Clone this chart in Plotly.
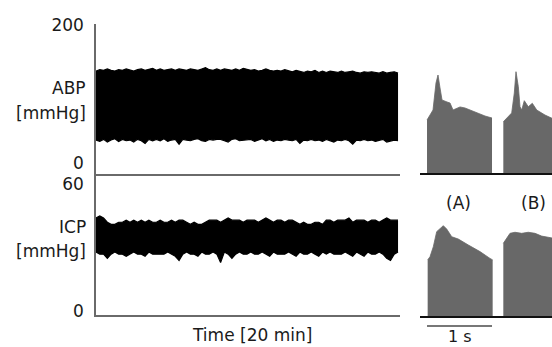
import plotly.graph_objects as go

# ---------------- data ----------------
# 20-minute trends (minutes), envelope of the dense pulsatile signal
trend_time_min = [i * 0.25 for i in range(81)]

abp_upper = [134, 136, 135, 137, 135, 134, 136, 135, 137,
             135, 134, 136, 137, 135, 136, 138, 135,
             137, 135, 136, 137, 135, 137, 136, 135,
             137, 136, 135, 137, 139, 136, 135, 137,
             135, 137, 136, 135, 137, 135, 138, 136,
             135, 136, 134, 135, 137, 135, 134, 135,
             134, 136, 134, 133, 135, 134, 132, 134,
             133, 135, 132, 134, 132, 134, 133, 132,
             134, 132, 133, 134, 132, 131, 133, 132,
             133, 132, 131, 133, 131, 132, 133, 131]
abp_lower = [34, 32, 35, 31, 34, 36, 32, 35, 33,
             34, 31, 35, 33, 29, 35, 33, 35,
             33, 36, 32, 34, 35, 28, 35, 34,
             33, 35, 36, 33, 32, 35, 34, 35,
             35, 33, 31, 35, 36, 33, 34, 35,
             35, 32, 34, 36, 33, 35, 32, 34,
             33, 35, 34, 33, 35, 29, 34, 33,
             35, 33, 34, 32, 35, 33, 31, 34,
             33, 35, 33, 28, 34, 33, 35, 33,
             34, 32, 33, 35, 31, 33, 34, 33]
icp_upper = [44, 45, 44, 42, 41, 41, 42, 42, 43,
             42, 43, 42, 43, 42, 43, 42, 42,
             43, 42, 42, 43, 42, 43, 43, 42,
             41, 42, 41, 41, 42, 43, 43, 43,
             42, 43, 44, 43, 43, 43, 42, 43,
             43, 43, 42, 43, 44, 43, 42, 43,
             43, 42, 43, 43, 42, 41, 42, 41,
             41, 42, 42, 41, 43, 43, 42, 43,
             43, 43, 44, 42, 43, 43, 43, 42,
             43, 43, 42, 43, 44, 43, 43, 43]
icp_lower = [28, 27, 27, 25, 27, 28, 27, 27, 26,
             27, 28, 27, 27, 26, 28, 27, 27,
             27, 27, 28, 27, 26, 24, 27, 28,
             27, 27, 26, 28, 27, 27, 28, 27,
             23, 28, 27, 25, 27, 28, 27, 27,
             28, 27, 27, 28, 27, 26, 28, 27,
             27, 27, 28, 27, 26, 28, 27, 27,
             28, 27, 26, 28, 27, 28, 27, 27,
             27, 28, 27, 26, 28, 27, 26, 28,
             27, 27, 28, 27, 25, 24, 27, 28]

# single-beat waveforms (seconds, mmHg)
abp_A_t = [0.0, 0.092, 0.138, 0.169, 0.2, 0.231, 0.308, 0.354, 0.4, 0.508, 0.585, 0.738, 0.892, 1.0]
abp_A = [76.8, 91.3, 130.4, 142.0, 123.2, 105.8, 102.9, 101.4, 91.3, 95.7, 94.2, 88.4, 82.6, 79.7]
abp_B_t = [1.174, 1.226, 1.303, 1.343, 1.369, 1.405, 1.431, 1.457, 1.497, 1.558, 1.620, 1.688, 1.815, 1.923, 2.0]
abp_B = [74.3, 79.7, 87.0, 116.0, 146.8, 125.0, 96.0, 91.3, 104.8, 96.0, 101.0, 91.3, 84.0, 79.3, 78.0]
icp_A_t = [0.01, 0.046, 0.097, 0.149, 0.251, 0.303, 0.38, 0.482, 0.636, 0.815, 0.969, 1.01]
icp_A = [26.4, 27.9, 32.6, 39.7, 42.5, 40.9, 37.3, 36.2, 33.4, 30.3, 27.1, 26.4]
icp_B_t = [1.174, 1.211, 1.277, 1.354, 1.457, 1.558, 1.662, 1.764, 1.923, 2.0]
icp_B = [34.2, 35.8, 38.9, 39.4, 38.9, 39.4, 38.9, 37.6, 36.6, 36.3]

scale_bar_s = [0.0, 1.0]

abp_ticks = [0, 200]
icp_ticks = [0, 60]

# ---------------- figure ----------------
W, H = 552, 347
FONT = "DejaVu Sans"
TXT = "#1a1a1a"
AX = "#6a6a6a"
GRAY = "#686868"


def px(xp):
    return xp / W


def py(yp):
    return 1 - yp / H


fig = go.Figure()

# trend panels (filled envelopes)
fig.add_trace(go.Scatter(x=trend_time_min, y=abp_lower, mode="lines",
                         line=dict(color="black", width=1.2), xaxis="x", yaxis="y",
                         hoverinfo="skip"))
fig.add_trace(go.Scatter(x=trend_time_min, y=abp_upper, mode="lines", fill="tonexty",
                         fillcolor="black", line=dict(color="black", width=1.2),
                         xaxis="x", yaxis="y", hoverinfo="skip"))
fig.add_trace(go.Scatter(x=trend_time_min, y=icp_lower, mode="lines",
                         line=dict(color="black", width=1.2), xaxis="x2", yaxis="y2",
                         hoverinfo="skip"))
fig.add_trace(go.Scatter(x=trend_time_min, y=icp_upper, mode="lines", fill="tonexty",
                         fillcolor="black", line=dict(color="black", width=1.2),
                         xaxis="x2", yaxis="y2", hoverinfo="skip"))

# beat panels
for t, v, xa, ya in [(abp_A_t, abp_A, "x3", "y3"), (abp_B_t, abp_B, "x3", "y3"),
                     (icp_A_t, icp_A, "x4", "y4"), (icp_B_t, icp_B, "x4", "y4")]:
    fig.add_trace(go.Scatter(x=t, y=v, mode="lines", fill="tozeroy", fillcolor=GRAY,
                             line=dict(color=GRAY, width=0.8), xaxis=xa, yaxis=ya,
                             hoverinfo="skip"))

left_dom = [px(96), px(400)]
right_dom = [px(420), 1.0]

common_x = dict(showgrid=False, zeroline=False, showticklabels=False, ticks="",
                automargin=False)
common_y = dict(showgrid=False, zeroline=False, ticks="", automargin=False,
                tickfont=dict(family=FONT, size=17, color=TXT), ticklabelstandoff=7)

fig.update_layout(
    template="none",
    width=W, height=H, autosize=False,
    margin=dict(l=0, r=0, t=0, b=0, pad=0, autoexpand=False),
    paper_bgcolor="white", plot_bgcolor="white",
    showlegend=False,
    font=dict(family=FONT, size=17, color=TXT),
    xaxis=dict(domain=left_dom, range=[0, 20.13], anchor="y", showline=True,
               linecolor=AX, linewidth=1.5, **common_x),
    yaxis=dict(domain=[py(174), py(24)], range=[-15.2, 202.2], anchor="x", showline=True,
               linecolor=AX, linewidth=1.5, tickvals=abp_ticks, **common_y),
    xaxis2=dict(domain=left_dom, range=[0, 20.13], anchor="y2", showline=True,
                linecolor=AX, linewidth=1.5, **common_x),
    yaxis2=dict(domain=[py(315), py(175)], range=[-1.65, 64.24], anchor="x2", showline=True,
                linecolor=AX, linewidth=1.5, tickvals=icp_ticks, **common_y),
    xaxis3=dict(domain=right_dom, range=[-0.108, 1.923], anchor="y3", showline=True,
                linecolor="#111111", linewidth=2, **common_x),
    yaxis3=dict(domain=[py(173), py(24)], range=[0, 215.9], anchor="x3", visible=False),
    xaxis4=dict(domain=right_dom, range=[-0.108, 1.923], anchor="y4", showline=True,
                linecolor="#111111", linewidth=2, **common_x),
    yaxis4=dict(domain=[py(316), py(175)], range=[0, 66.35], anchor="x4", visible=False),
)

ann = []


def label(text, xp, yp, xanchor="center", yanchor="middle", size=17):
    ann.append(dict(text=text, x=px(xp), y=py(yp), xref="paper", yref="paper",
                    xanchor=xanchor, yanchor=yanchor, showarrow=False,
                    font=dict(family=FONT, size=size, color=TXT)))


label("ABP", 88, 88, xanchor="right")
label("[mmHg]", 88, 113, xanchor="right")
label("ICP", 88, 227, xanchor="right")
label("[mmHg]", 88, 251, xanchor="right")
label("Time [20 min]", 252, 335)
label("(A)", 458, 203)
label("(B)", 533, 203)
ann.append(dict(text="1 s", x=sum(scale_bar_s) / 2, xref="x4", y=0, yref="paper",
                xanchor="center", yanchor="bottom", showarrow=False, borderpad=0,
                font=dict(family=FONT, size=16, color=TXT)))
fig.update_layout(annotations=ann)

fig.add_shape(type="line", xref="x4", yref="paper", x0=scale_bar_s[0], x1=scale_bar_s[1],
              y0=py(326), y1=py(326), line=dict(color="#777777", width=2))

fig.write_html("out.html", config={"displayModeBar": False},
               post_script="document.body.style.margin='0';")
